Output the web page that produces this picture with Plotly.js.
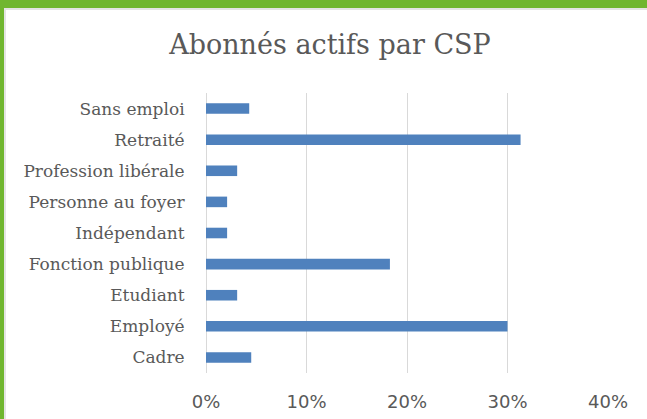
<!DOCTYPE html>
<html>
<head>
<meta charset="utf-8">
<script src="https://cdn.plot.ly/plotly-3.0.1.min.js"></script>
<style>
  html, body { margin: 0; padding: 0; background: #ffffff; }
  #wrap { position: relative; width: 647px; height: 419px; overflow: hidden; }
  #chart { position: absolute; left: 0; top: 0; width: 647px; height: 419px; }
  .bt { position: absolute; left: 0; top: 0; width: 647px; height: 8px; background: #70b62f; }
  .bt2 { position: absolute; left: 0; top: 8px; width: 647px; height: 2px; background: #e4e4e4; }
  .bl { position: absolute; left: 0; top: 0; width: 4px; height: 419px; background: #70b62f; }
  .bl2 { position: absolute; left: 4px; top: 10px; width: 2px; height: 409px; background: #e4e4e4; }
</style>
</head>
<body>
<div id="wrap">
  <div id="chart"></div>
  <div class="bt2"></div><div class="bl2"></div>
  <div class="bt"></div><div class="bl"></div>
</div>
<script>
const categories = ["Cadre", "Employé", "Etudiant", "Fonction publique", "Indépendant",
                    "Personne au foyer", "Profession libérale", "Retraité", "Sans emploi"];
const shares = [0.045, 0.300, 0.031, 0.183, 0.021, 0.021, 0.031, 0.313, 0.043];
const xTickVals = [0, 0.1, 0.2, 0.3, 0.4];
const xTickText = ["0%", "10%", "20%", "30%", "40%"];

const trace = {
  type: "bar",
  orientation: "h",
  x: shares,
  y: categories,
  marker: { color: "#4f81bd", line: { width: 0 } },
  hoverinfo: "none"
};

const layout = {
  width: 647,
  height: 419,
  paper_bgcolor: "#ffffff",
  plot_bgcolor: "#ffffff",
  margin: { l: 206, r: 39, t: 93, b: 46, pad: 0 },
  bargap: 0.66,
  showlegend: false,
  title: {
    text: "Abonnés actifs par CSP",
    font: { family: "DejaVu Serif, serif", size: 27, color: "#595959" },
    x: 0.51, xanchor: "center", xref: "container",
    y: 0.893, yanchor: "middle", yref: "container"
  },
  xaxis: {
    range: [0, 0.4],
    tickvals: xTickVals,
    ticktext: xTickText,
    showgrid: true,
    gridcolor: "#d9d9d9",
    gridwidth: 1,
    zeroline: true,
    zerolinecolor: "#d9d9d9",
    zerolinewidth: 1,
    showline: false,
    ticks: "outside",
    ticklen: 12,
    tickcolor: "rgba(0,0,0,0)",
    tickfont: { family: "DejaVu Sans, sans-serif", size: 18, color: "#595959" },
    fixedrange: true
  },
  yaxis: {
    type: "category",
    categoryorder: "array",
    categoryarray: categories,
    showgrid: false,
    zeroline: false,
    showline: false,
    ticks: "outside",
    ticklen: 17,
    tickcolor: "rgba(0,0,0,0)",
    tickfont: { family: "DejaVu Serif, serif", size: 17, color: "#595959" },
    fixedrange: true
  }
};

Plotly.newPlot("chart", [trace], layout, { displayModeBar: false, staticPlot: true });
</script>
</body>
</html>
